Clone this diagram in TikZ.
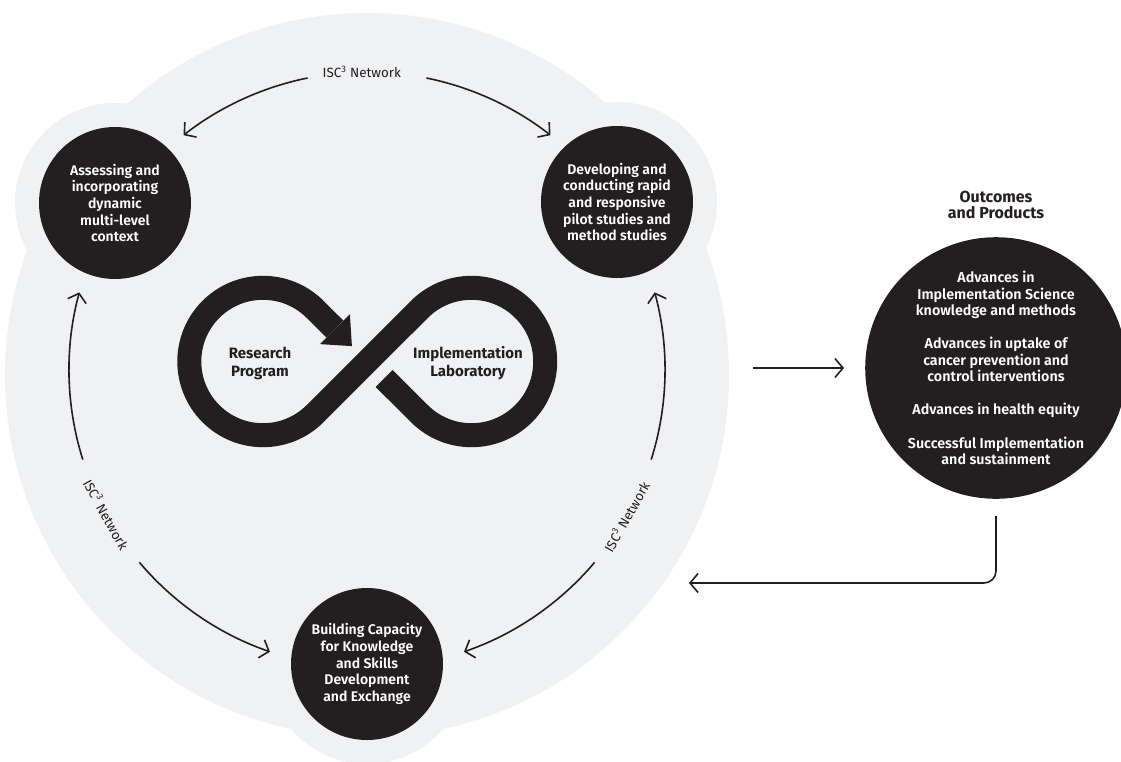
\documentclass[tikz,border=0pt]{standalone}
\usepackage{fontspec}
\setmainfont{Fira Sans}
\newfontfamily\semifont{Fira Sans SemiBold}
\usetikzlibrary{arrows.meta,calc}
\definecolor{ink}{HTML}{231F20}
\definecolor{haze}{HTML}{F0F1F3}

\begin{document}
\begin{tikzpicture}[x=1pt,y=-1pt,
  hub/.style={circle,fill=ink,text=white,minimum size=152pt,inner sep=0pt,align=center,
    font=\semifont\fontsize{14}{16.6}\selectfont},
  net/.style={font=\fontsize{13.4}{16}\selectfont,text=ink,inner sep=1pt},
  arr/.style={draw=ink,line width=1.6pt,-{Straight Barb[length=8pt,width=19pt,line width=1.6pt]}},
  band/.style={draw=ink,line width=24pt},
  looplabel/.style={font=\bfseries\fontsize{15}{18}\selectfont,text=ink,align=center}
]
\useasboundingbox (0,0) rectangle (1121,761);

% light backdrop: large disc plus a halo round each stage
\fill[haze] (367,375) circle[radius=362]
            (115,203) circle[radius=100]
            (617,202) circle[radius=100]
            (367,664) circle[radius=100];

% the three stages
\node[hub] (ctx) at (115,203) {Assessing and\\incorporating\\dynamic\\multi-level\\context};
\node[hub] (pilot) at (617,202) {Developing and\\conducting rapid\\and responsive\\pilot studies and\\method studies};
\node[hub] (cap) at (367,664) {Building Capacity\\for Knowledge\\and Skills\\Development\\and Exchange};

% ring of network arrows
\coordinate (ring) at (367,370);
\def\rr{298}
\coordinate (t1) at ($(ring)+(-101.5:\rr)$);
\coordinate (t2) at ($(ring)+(-78.5:\rr)$);
\coordinate (l1) at ($(ring)+(162.5:\rr)$);
\coordinate (l2) at ($(ring)+(139.8:\rr)$);
\coordinate (r1) at ($(ring)+(17.5:\rr)$);
\coordinate (r2) at ($(ring)+(40.2:\rr)$);
\draw[arr] (t1) arc[start angle=-101.5,end angle=-128,radius=\rr];
\draw[arr] (t2) arc[start angle=-78.5,end angle=-52,radius=\rr];
\draw[arr] (l1) arc[start angle=162.5,end angle=195.1,radius=\rr];
\draw[arr] (l2) arc[start angle=139.8,end angle=109,radius=\rr];
\draw[arr] (r1) arc[start angle=17.5,end angle=-15.1,radius=\rr];
\draw[arr] (r2) arc[start angle=40.2,end angle=71,radius=\rr];

\node[net] (nettop) at ($(ring)+(-91:\rr)$) {ISC\textsuperscript{3} Network};
\node[net,rotate=-61] (netleft) at ($(ring)+(151:\rr)$) {ISC\textsuperscript{3} Network};
\node[net,rotate=60.5] (netright) at ($(ring)+(29.5:\rr)$) {ISC\textsuperscript{3} Network};

% infinity loop
\coordinate (lc) at (263,361.5);
\coordinate (rc) at (471.5,361.5);
\def\lr{73.7}
\draw[band] (384.2,378.5) -- ($(rc)+(135:\lr)$)
   arc[start angle=135,end angle=-135,radius=\lr]
   -- ($(lc)+(45:\lr)$)
   arc[start angle=45,end angle=315,radius=\lr]
   -- (334.9,329.1);
\fill[ink] (349.9,314.1) -- (319.9,344.1) -- (351.9,346.1) -- cycle;
\node[looplabel] (rp) at (260,363) {Research\\Program};
\node[looplabel] (il) at (468,363) {Implementation\\Laboratory};

% outcomes
\node[font=\bfseries\fontsize{16}{16.5}\selectfont,text=ink,align=center] (title) at (996,205) {Outcomes\\and Products};
\node[circle,fill=ink,minimum size=260pt,inner sep=0pt,text=white,align=center,
      font=\semifont\fontsize{14.3}{16.3}\selectfont] (out) at (996,368)
  {Advances in\\Implementation Science\\knowledge and methods\\[17pt]
   Advances in uptake of\\cancer prevention and\\control interventions\\[17pt]
   Advances in health equity\\[17pt]
   Successful Implementation\\and sustainment};

% flow to and from the outcomes
\coordinate (fwd) at (753,368);
\draw[arr] (fwd) -- ([xshift=-21pt]out.west);
\coordinate (back) at (689,583);
\draw[arr,rounded corners=12pt] ([yshift=-17pt]out.south) |- (back);
\end{tikzpicture}
\end{document}
